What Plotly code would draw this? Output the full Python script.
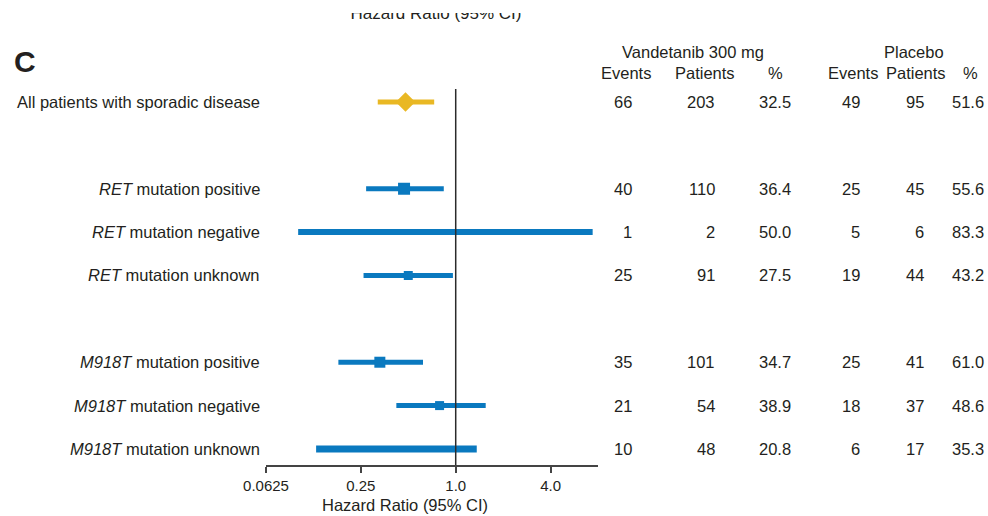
import plotly.graph_objects as go

# ---- data -------------------------------------------------------------
groups = [
    ["All patients with sporadic disease"],
    ["<i>RET</i> mutation positive", "<i>RET</i> mutation negative", "<i>RET</i> mutation unknown"],
    ["<i>M918T</i> mutation positive", "<i>M918T</i> mutation negative", "<i>M918T</i> mutation unknown"],
]
hazard_ratio = [0.48, 0.47, None, 0.50, 0.33, 0.79, None]
ci_low = [0.32, 0.27, 0.10, 0.26, 0.18, 0.42, 0.13]
ci_high = [0.73, 0.84, 7.4, 0.96, 0.62, 1.55, 1.36]

vand_events = [66, 40, 1, 25, 35, 21, 10]
vand_patients = [203, 110, 2, 91, 101, 54, 48]
vand_pct = [32.5, 36.4, 50.0, 27.5, 34.7, 38.9, 20.8]
plac_events = [49, 25, 5, 19, 25, 18, 6]
plac_patients = [95, 45, 6, 44, 41, 37, 17]
plac_pct = [51.6, 55.6, 83.3, 43.2, 61.0, 48.6, 35.3]

tick_values = [0.0625, 0.25, 1, 4]
tick_labels = ["0.0625", "0.25", "1.0", "4.0"]

# ---- styling ----------------------------------------------------------
W, H = 988, 516
FONT = "Liberation Sans, Arial, sans-serif"
TXT = "#231F20"
GOLD = "#E9B824"
BLUE = "#0A79BF"
AXIS = "#444444"
TEXT_SIZE = 16.5
marker_size = [15, 12, 0, 9, 11, 9, 0]
line_width = [5, 5, 6, 5, 5, 5, 7]

# row positions: one blank row between groups
labels, rows = [], []
pos = 0
for g in groups:
    for lab in g:
        labels.append(lab)
        rows.append(pos)
        pos += 1
    pos += 1

def px(x):
    return x / W

def py(y):
    return 1 - y / H

fig = go.Figure()

# confidence interval bars and point estimates
for i, r in enumerate(rows):
    color = GOLD if i == 0 else BLUE
    fig.add_trace(go.Scatter(
        x=[ci_low[i], ci_high[i]], y=[r, r], mode="lines",
        line=dict(color=color, width=line_width[i]),
        hoverinfo="skip", showlegend=False))
    if hazard_ratio[i] is not None:
        fig.add_trace(go.Scatter(
            x=[hazard_ratio[i]], y=[r], mode="markers",
            marker=dict(symbol="diamond" if i == 0 else "square",
                        size=marker_size[i], color=color, line=dict(width=0)),
            hoverinfo="skip", showlegend=False))

# line of no effect
fig.add_shape(type="line", xref="x", yref="y domain", x0=1, x1=1, y0=0, y1=1,
              line=dict(color="#2b2b2b", width=1.5))

annotations = []

def add_text(x, y, text, xanchor="center", size=TEXT_SIZE, yref="paper", **kw):
    annotations.append(dict(x=x, y=y, xref="paper", yref=yref, text=text,
                            showarrow=False, xanchor=xanchor, yanchor="middle",
                            font=dict(family=FONT, size=size, color=TXT), **kw))

# row labels
for lab, r in zip(labels, rows):
    add_text(px(262), r, lab, xanchor="right", yref="y")

# table columns
cols = [
    (vand_events, 634, "{}"), (vand_patients, 717, "{}"), (vand_pct, 793, "{:.1f}"),
    (plac_events, 862, "{}"), (plac_patients, 926, "{}"), (plac_pct, 986, "{:.1f}"),
]
for values, right, fmt in cols:
    for v, r in zip(values, rows):
        add_text(px(right), r, fmt.format(v), xanchor="right", yref="y")

# table headers
add_text(px(693), py(52), "Vandetanib 300 mg")
add_text(px(914), py(52), "Placebo")
for label, cx in [("Events", 626), ("Patients", 705), ("%", 775),
                  ("Events", 853), ("Patients", 916), ("%", 970)]:
    add_text(px(cx), py(73), label)

# panel letter and axis title
add_text(px(12), py(62), "<b>C</b>", xanchor="left", size=30)
add_text(px(405), py(505), "Hazard Ratio (95% CI)", size=16.5)

# axis title of the panel above, cut off at the top edge
fig.add_trace(go.Scatter(
    x=[436], y=[-14.5], mode="text", text=["Hazard Ratio (95% CI)"],
    textfont=dict(family=FONT, size=17, color=TXT), cliponaxis=True,
    xaxis="x2", yaxis="y2", hoverinfo="skip", showlegend=False))

fig.update_layout(
    width=W, height=H,
    margin=dict(l=0, r=0, t=0, b=0, autoexpand=False),
    paper_bgcolor="white", plot_bgcolor="white",
    font=dict(family=FONT, size=15, color=TXT),
    annotations=annotations,
    xaxis=dict(
        type="log", domain=[px(266), px(598)],
        range=[-1.2041, 0.9031],
        tickvals=tick_values, ticktext=tick_labels,
        showgrid=False, zeroline=False,
        showline=True, linecolor=AXIS, linewidth=1.5,
        ticks="outside", ticklen=6, tickwidth=1.5, tickcolor=AXIS,
        tickfont=dict(family=FONT, size=15, color=TXT),
        ticklabelstandoff=0,
    ),
    yaxis=dict(
        domain=[py(465), py(89)], range=[8.37, -0.3],
        visible=False, showgrid=False, zeroline=False,
    ),
    xaxis2=dict(domain=[0, 1], range=[0, W], visible=False, anchor="y2"),
    yaxis2=dict(domain=[py(40), py(13)], range=[-40, -13], visible=False, anchor="x2"),
)

fig.write_html("out.html")
